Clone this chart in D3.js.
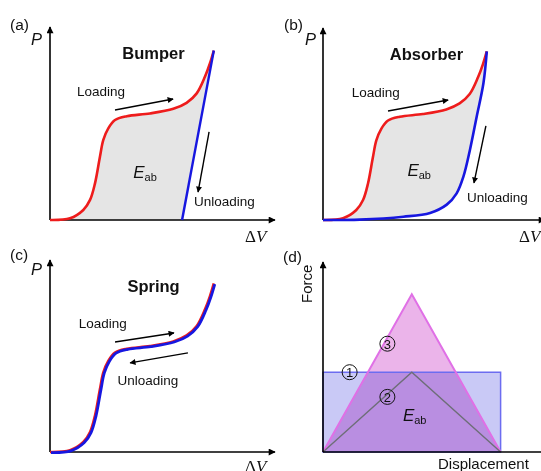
<!DOCTYPE html>
<html><head><meta charset="utf-8">
<script src="https://cdn.jsdelivr.net/npm/d3@7"></script>
<style>body{margin:0;background:#fff}svg{display:block}</style>
</head><body>
<svg id="c" width="541" height="471"></svg>
<script>
// ---- data (ΔV, P in arbitrary units) ----
const loadingCurve = [[0,0],[0.89,0.09],[1.48,0.52],[1.78,1.04],[2.0,1.9],[2.22,3.28],[2.37,4.15],[2.59,4.75],[2.89,5.18],[3.41,5.38],[4.44,5.52],[5.48,5.76],[6.07,6.07],[6.52,6.56],[6.89,7.43],[7.11,8.12],[7.28,8.78]];
const bumperUnloading = [[5.87,0],[7.28,8.78]];
const absorberUnloading = [[0,0],[1.64,0.02],[3.57,0.17],[4.76,0.37],[5.50,0.8],[5.94,1.39],[6.24,2.26],[6.53,3.65],[6.83,5.38],[7.13,7.12],[7.28,8.78]];
const springUnloading = loadingCurve;
const panelTitles = ["Bumper","Absorber","Spring"];
const panelLetters = ["(a)","(b)","(c)","(d)"];
// panel d: displacement / force
const dispEnd = 8;
const rectForce = 4.2;       // ① constant force
const tri2Peak = 4.2;        // ② triangle
const tri3Peak = 8.3;        // ③ triangle
const tri2PeakDisp = 4, tri3PeakDisp = 4;

const svg = d3.select("#c");
const RED = "#ee1c1c", BLUE = "#1717e0";
const SANS = "'Liberation Sans', Arial, sans-serif";
const SERIF = "'Liberation Serif', 'DejaVu Serif', serif";

const defs = svg.append("defs");
defs.append("marker").attr("id","ah").attr("viewBox","0 0 10 10").attr("refX",9).attr("refY",5)
  .attr("markerWidth",9).attr("markerHeight",7).attr("markerUnits","userSpaceOnUse").attr("orient","auto")
  .append("path").attr("d","M0,0L10,5L0,10Z").attr("fill","#000");
defs.append("marker").attr("id","ah2").attr("viewBox","0 0 10 10").attr("refX",9).attr("refY",5)
  .attr("markerWidth",8).attr("markerHeight",6).attr("markerUnits","userSpaceOnUse").attr("orient","auto")
  .append("path").attr("d","M0,0L10,5L0,10Z").attr("fill","#000");

function axes(g, x, y, xEnd, yTop){
  g.append("line").attr("x1",x(0)).attr("y1",y(0)).attr("x2",xEnd).attr("y2",y(0))
    .attr("stroke","#000").attr("stroke-width",1.6).attr("marker-end","url(#ah)");
  g.append("line").attr("x1",x(0)).attr("y1",y(0)).attr("x2",x(0)).attr("y2",yTop)
    .attr("stroke","#000").attr("stroke-width",1.6).attr("marker-end","url(#ah)");
}
function arrow(g, x, y, a, b){
  g.append("line").attr("x1",x(a[0])).attr("y1",y(a[1])).attr("x2",x(b[0])).attr("y2",y(b[1]))
    .attr("stroke","#000").attr("stroke-width",1.4).attr("marker-end","url(#ah2)");
}
function txt(g, px, py, s, opts={}){
  return g.append("text").attr("x",px).attr("y",py).text(s)
    .attr("font-family",opts.family||SANS).attr("font-size",opts.size||13.5)
    .attr("font-weight",opts.weight||"normal").attr("font-style",opts.style||"normal")
    .attr("text-anchor",opts.anchor||"start").attr("fill","#111");
}
function eab(g, px, py){
  const t = g.append("text").attr("x",px).attr("y",py).attr("font-family",SANS).attr("fill","#111");
  t.append("tspan").attr("font-size",17).attr("font-style","italic").text("E");
  t.append("tspan").attr("font-size",11).attr("dy",3).text("ab");
}
function pvLabels(g, x, y, letter, lx, ly, dvx, dvy){
  txt(g, lx, ly, letter, {size:15.5});
  txt(g, lx+21, ly+15, "P", {size:16.5, style:"italic"});
  const t = g.append("text").attr("x",dvx).attr("y",dvy).attr("font-family",SERIF).attr("font-size",17).attr("fill","#111");
  t.append("tspan").text("Δ");
  t.append("tspan").attr("font-style","italic").text("V");
}

const panels = [
  {x0:50, xr:275, y0:220, yt:27, xEnd:275, title:0, lx:10, ly:30, dvx:245, dvy:242},
  {x0:323, xr:548, y0:220, yt:28, xEnd:545, title:1, lx:284, ly:30, dvx:519, dvy:242},
  {x0:50, xr:275, y0:452, yt:260, xEnd:275, title:2, lx:10, ly:260, dvx:245, dvy:472}
];

panels.forEach((p,i)=>{
  const g = svg.append("g");
  const x = d3.scaleLinear().domain([0,10]).range([p.x0,p.xr]);
  const y = d3.scaleLinear().domain([0,10]).range([p.y0,p.yt]);
  const line = d3.line().x(d=>x(d[0])).y(d=>y(d[1])).curve(d3.curveCatmullRom.alpha(0.5));
  const lin = d3.line().x(d=>x(d[0])).y(d=>y(d[1]));
  if(i===0){
    const area = line(loadingCurve) + "L" + x(bumperUnloading[0][0]) + "," + y(0) + "Z";
    g.append("path").attr("d",area).attr("fill","#e5e5e5");
  } else if(i===1){
    const back = line(absorberUnloading.slice().reverse()).replace(/^M/,"L");
    g.append("path").attr("d",line(loadingCurve)+back+"Z").attr("fill","#e5e5e5");
  }
  axes(g, x, y, p.xEnd, p.yt);
  g.append("path").attr("d",line(loadingCurve)).attr("fill","none").attr("stroke",RED).attr("stroke-width",2.6);
  if(i===0){
    g.append("path").attr("d",lin(bumperUnloading)).attr("fill","none").attr("stroke",BLUE).attr("stroke-width",2.4);
  } else if(i===1){
    g.append("path").attr("d",line(absorberUnloading)).attr("fill","none").attr("stroke",BLUE).attr("stroke-width",2.6);
  } else {
    g.append("path").attr("d",line(springUnloading)).attr("fill","none").attr("stroke",BLUE).attr("stroke-width",2.8)
      .attr("transform","translate(1,0.6)");
  }
  txt(g, x(4.6), y(8.35), panelTitles[p.title], {size:16.5, weight:"bold", anchor:"middle"});
  pvLabels(g, x, y, panelLetters[i], p.lx, p.ly, p.dvx, p.dvy);
  if(i===0){
    txt(g, x(1.2), y(6.45), "Loading");
    arrow(g, x, y, [2.89,5.70],[5.47,6.27]);
    arrow(g, x, y, [7.07,4.56],[6.58,1.45]);
    txt(g, x(6.4), y(0.72), "Unloading");
    eab(g, x(3.7), y(2.2));
  } else if(i===1){
    txt(g, x(1.28), y(6.4), "Loading");
    arrow(g, x, y, [2.89,5.68],[5.56,6.25]);
    arrow(g, x, y, [7.24,4.9],[6.71,1.93]);
    txt(g, x(6.4), y(0.95), "Unloading");
    eab(g, x(3.75), y(2.28));
  } else {
    txt(g, x(1.28), y(6.45), "Loading");
    arrow(g, x, y, [2.89,5.73],[5.51,6.2]);
    arrow(g, x, y, [6.13,5.16],[3.56,4.64]);
    txt(g, x(3.0), y(3.5), "Unloading");
  }
});

// ---- panel d ----
{
  const g = svg.append("g");
  const x = d3.scaleLinear().domain([0,10]).range([323,545]);
  const y = d3.scaleLinear().domain([0,10]).range([452,262]);
  const tri = (pk, pd)=>[[0,0],[pd,pk],[dispEnd,0]];
  const lin = d3.line().x(d=>x(d[0])).y(d=>y(d[1]));
  const rectPts = [[0,0],[0,rectForce],[dispEnd,rectForce],[dispEnd,0]];
  g.append("path").attr("d",lin(rectPts)+"Z").attr("fill","#c9c9f6");
  g.append("path").attr("d",lin(tri(tri3Peak,tri3PeakDisp))+"Z").attr("fill","#ebb4ea").style("mix-blend-mode","multiply");
  g.append("path").attr("d",lin(rectPts)+"Z").attr("fill","none").attr("stroke","#6c6cf0").attr("stroke-width",1.5);
  g.append("path").attr("d",lin(tri(tri3Peak,tri3PeakDisp))).attr("fill","none").attr("stroke","#e070e6").attr("stroke-width",2);
  g.append("path").attr("d",lin(tri(tri2Peak,tri2PeakDisp))).attr("fill","none").attr("stroke","#6e6e78").attr("stroke-width",1.4);
  // axes
  g.append("line").attr("x1",x(0)).attr("y1",y(0)).attr("x2",545).attr("y2",y(0)).attr("stroke","#000").attr("stroke-width",1.6);
  g.append("line").attr("x1",x(0)).attr("y1",y(0)).attr("x2",x(0)).attr("y2",262)
    .attr("stroke","#000").attr("stroke-width",1.6).attr("marker-end","url(#ah)");
  txt(g, 283, 262, panelLetters[3], {size:15.5});
  txt(g, 0, 0, "Force", {size:15}).attr("transform",`translate(${312},${303}) rotate(-90)`);
  txt(g, 438, 469, "Displacement", {size:15});
  const circ = (d, px, py)=>{
    g.append("circle").attr("cx",px).attr("cy",py).attr("r",7.5).attr("fill","none").attr("stroke","#111").attr("stroke-width",1);
    txt(g, px, py+4.8, d, {size:13, anchor:"middle"});
  };
  circ("1", x(1.2), y(rectForce));
  circ("2", x(2.9), y(2.9));
  circ("3", x(2.9), y(5.7));
  eab(g, x(3.6), y(1.65));
}
</script>
</body></html>
